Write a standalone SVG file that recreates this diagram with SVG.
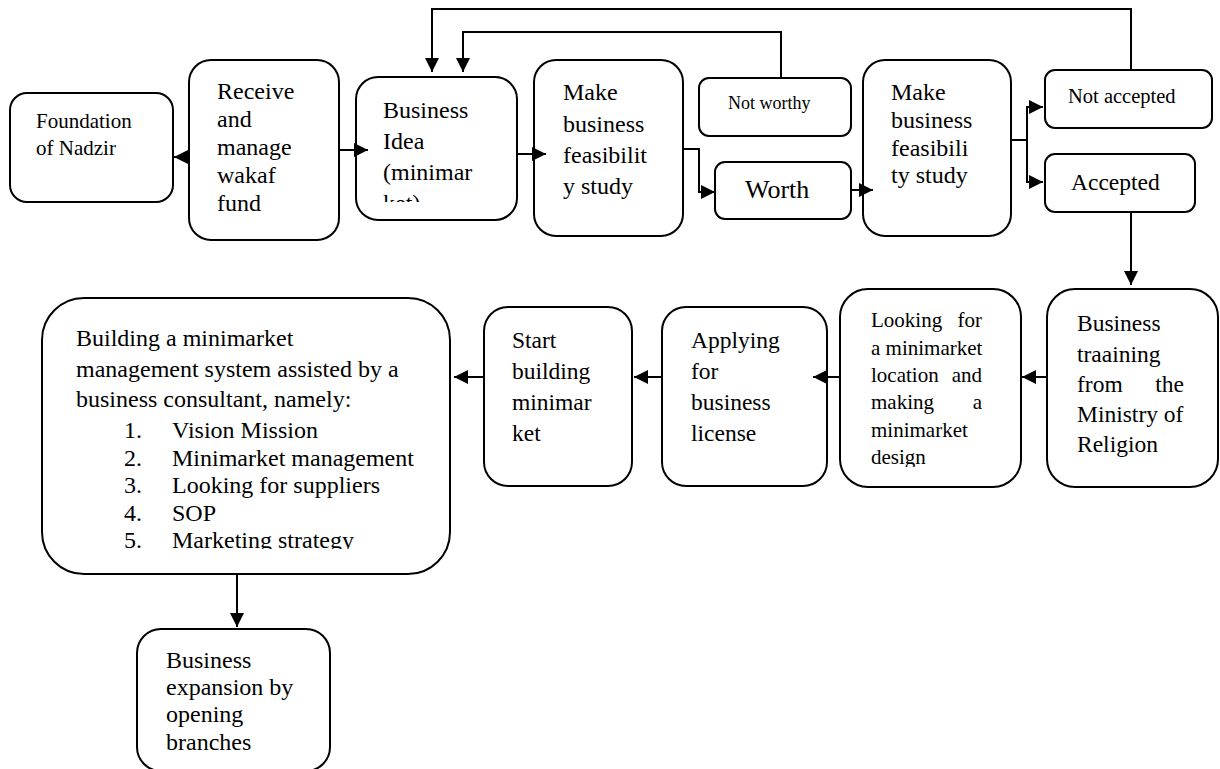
<svg xmlns="http://www.w3.org/2000/svg" width="1220" height="769" viewBox="0 0 1220 769">
<style>
.box{fill:#fff;stroke:#000;stroke-width:2}
.t{font-family:"Liberation Serif","Times New Roman",serif;fill:#000}
.c{fill:none;stroke:#000;stroke-width:2;marker-end:url(#ah)}
</style>
<defs>
<marker id="ah" viewBox="0 0 10 10" refX="10" refY="5" markerWidth="15" markerHeight="14" markerUnits="userSpaceOnUse" orient="auto">
<path d="M0,0 L10,5 L0,10 z" fill="#000"/>
</marker>
<clipPath id="clipIdea"><rect x="356" y="77" width="161" height="125"/></clipPath>
<clipPath id="clipLook"><rect x="840" y="289" width="181" height="178"/></clipPath>
<clipPath id="clipBuild"><rect x="42" y="298" width="408" height="251"/></clipPath>
</defs>
<rect width="1220" height="769" fill="#fff"/>

<g id="foundation">
<rect class="box" x="10" y="93" width="163" height="109" rx="17"/>
<text class="t" font-size="21" x="36" y="128">Foundation</text>
<text class="t" font-size="21" x="36" y="155">of Nadzir</text>
</g>

<g id="receive">
<rect class="box" x="189" y="60" width="150" height="180" rx="22"/>
<text class="t" font-size="24" x="217" y="99">Receive</text>
<text class="t" font-size="24" x="217" y="127">and</text>
<text class="t" font-size="24" x="217" y="155">manage</text>
<text class="t" font-size="24" x="217" y="183">wakaf</text>
<text class="t" font-size="24" x="217" y="211">fund</text>
</g>

<g id="idea">
<rect class="box" x="356" y="77" width="161" height="143" rx="22"/>
<g clip-path="url(#clipIdea)">
<text class="t" font-size="24" x="383" y="118">Business</text>
<text class="t" font-size="24" x="383" y="149">Idea</text>
<text class="t" font-size="24" x="383" y="180">(minimar</text>
<text class="t" font-size="24" x="383" y="211">ket)</text>
</g>
</g>

<g id="feasibility1">
<rect class="box" x="534" y="60" width="149" height="176" rx="22"/>
<text class="t" font-size="24" x="563" y="100">Make</text>
<text class="t" font-size="24" x="563" y="132">business</text>
<text class="t" font-size="24" x="563" y="163">feasibilit</text>
<text class="t" font-size="24" x="563" y="194">y study</text>
</g>

<g id="notworthy">
<rect class="box" x="699" y="78" width="152" height="58" rx="10"/>
<text class="t" font-size="18" x="728" y="109">Not worthy</text>
</g>

<g id="worth">
<rect class="box" x="715" y="162" width="136" height="57" rx="10"/>
<text class="t" font-size="26" x="745" y="198">Worth</text>
</g>

<g id="feasibility2">
<rect class="box" x="863" y="60" width="148" height="176" rx="22"/>
<text class="t" font-size="24" x="891" y="100">Make</text>
<text class="t" font-size="24" x="891" y="128">business</text>
<text class="t" font-size="24" x="891" y="156">feasibili</text>
<text class="t" font-size="24" x="891" y="183">ty study</text>
</g>

<g id="notaccepted">
<rect class="box" x="1045" y="70" width="167" height="58" rx="10"/>
<text class="t" font-size="20.5" x="1068" y="103">Not accepted</text>
</g>

<g id="accepted">
<rect class="box" x="1045" y="154" width="150" height="58" rx="10"/>
<text class="t" font-size="23.5" x="1071" y="190">Accepted</text>
</g>

<g id="training">
<rect class="box" x="1047" y="289" width="171" height="198" rx="28"/>
<text class="t" font-size="23.5" x="1077" y="331">Business</text>
<text class="t" font-size="23.5" x="1077" y="362">traaining</text>
<text class="t" font-size="23.5" x="1077" y="392">from</text>
<text class="t" font-size="23.5" x="1184" y="392" text-anchor="end">the</text>
<text class="t" font-size="23.5" x="1077" y="422">Ministry of</text>
<text class="t" font-size="23.5" x="1077" y="452">Religion</text>
</g>

<g id="looking">
<rect class="box" x="840" y="289" width="181" height="198" rx="28"/>
<g clip-path="url(#clipLook)">
<text class="t" font-size="21" x="871" y="327">Looking</text>
<text class="t" font-size="21" x="982" y="327" text-anchor="end">for</text>
<text class="t" font-size="21" x="871" y="355">a minimarket</text>
<text class="t" font-size="21" x="871" y="382">location</text>
<text class="t" font-size="21" x="982" y="382" text-anchor="end">and</text>
<text class="t" font-size="21" x="871" y="409">making</text>
<text class="t" font-size="21" x="982" y="409" text-anchor="end">a</text>
<text class="t" font-size="21" x="871" y="437">minimarket</text>
<text class="t" font-size="21" x="871" y="464">design</text>
</g>
</g>

<g id="applying">
<rect class="box" x="662" y="307" width="165" height="179" rx="24"/>
<text class="t" font-size="23.5" x="691" y="348">Applying</text>
<text class="t" font-size="23.5" x="691" y="379">for</text>
<text class="t" font-size="23.5" x="691" y="410">business</text>
<text class="t" font-size="23.5" x="691" y="441">license</text>
</g>

<g id="start">
<rect class="box" x="484" y="307" width="148" height="179" rx="24"/>
<text class="t" font-size="23.5" x="512" y="348">Start</text>
<text class="t" font-size="23.5" x="512" y="379">building</text>
<text class="t" font-size="23.5" x="512" y="410">minimar</text>
<text class="t" font-size="23.5" x="512" y="441">ket</text>
</g>

<g id="building">
<rect class="box" x="42" y="298" width="408" height="276" rx="42"/>
<g clip-path="url(#clipBuild)">
<text class="t" font-size="24" x="76" y="346">Building a minimarket</text>
<text class="t" font-size="24" x="76" y="377">management system assisted by a</text>
<text class="t" font-size="24" x="76" y="407">business consultant, namely:</text>
<text class="t" font-size="24" x="124" y="438">1.</text>
<text class="t" font-size="24" x="172" y="438">Vision Mission</text>
<text class="t" font-size="24" x="124" y="466">2.</text>
<text class="t" font-size="24" x="172" y="466">Minimarket management</text>
<text class="t" font-size="24" x="124" y="493">3.</text>
<text class="t" font-size="24" x="172" y="493">Looking for suppliers</text>
<text class="t" font-size="24" x="124" y="521">4.</text>
<text class="t" font-size="24" x="172" y="521">SOP</text>
<text class="t" font-size="24" x="124" y="548">5.</text>
<text class="t" font-size="24" x="172" y="548">Marketing strategy</text>
</g>
</g>

<g id="expansion">
<rect class="box" x="137" y="629" width="193" height="142" rx="24"/>
<text class="t" font-size="24" x="166" y="668">Business</text>
<text class="t" font-size="24" x="166" y="695">expansion by</text>
<text class="t" font-size="24" x="166" y="722">opening</text>
<text class="t" font-size="24" x="166" y="750">branches</text>
</g>

<g id="connectors">
<path class="c" d="M189,157 L174,157"/>
<path class="c" d="M340,150 L368,150"/>
<path class="c" d="M518,154 L546,154"/>
<path class="c" d="M684,149 L699,149 L699,192 L715,192"/>
<path class="c" d="M852,190 L873,190"/>
<path class="c" d="M1012,140 L1027,140 L1027,107 L1043,107"/>
<path class="c" d="M1027,140 L1027,182 L1043,182"/>
<path class="c" d="M781,77 L781,32 L463,32 L463,72"/>
<path class="c" d="M1131,69 L1131,9 L432,9 L432,72"/>
<path class="c" d="M1131,213 L1131,285"/>
<path class="c" d="M1046,377 L1022,377"/>
<path class="c" d="M839,377 L813,377"/>
<path class="c" d="M661,377 L634,377"/>
<path class="c" d="M483,377 L454,377"/>
<path class="c" d="M237,575 L237,627"/>
</g>
</svg>
